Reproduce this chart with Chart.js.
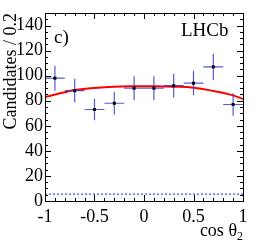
<!DOCTYPE html>
<html>
<head>
<meta charset="utf-8">
<script src="https://cdn.jsdelivr.net/npm/chart.js@4.4.0/dist/chart.umd.min.js"></script>
<style>
  html, body { margin: 0; padding: 0; background: #fff; }
  canvas { display: block; }
</style>
</head>
<body>
<canvas id="cosChart" width="256" height="245"></canvas>
<script>
// bin centres of cos(theta2), width 0.2
const binCenters = [-0.9, -0.7, -0.5, -0.3, -0.1, 0.1, 0.3, 0.5, 0.7, 0.9];
const candidates = [98, 88, 73, 78, 90, 90, 92, 94, 107, 77];
const candErrors = [10, 9.5, 8.5, 9, 9.5, 9.5, 9.5, 9.7, 10.5, 9];
const binHalfWidth = 0.1;

// fitted total PDF (red) and background (blue dotted)
const fitX = [-1, -0.8, -0.7, -0.5, -0.3, -0.1, 0.1, 0.3, 0.5, 0.7, 0.9, 1];
const fitY = [83, 86.8, 88.5, 90.2, 91.2, 91.5, 91.5, 91.2, 90.4, 87.8, 84.3, 81.4];
const bkgX = [-1, 1];
const bkgY = [5.5, 5.5];

const xTicks = [-1, -0.5, 0, 0.5, 1];
const yTicks = [0, 20, 40, 60, 80, 100, 120, 140];
const xMinorStep = 0.1;
const yMinorStep = 5;

const serif = '"Liberation Serif", "DejaVu Serif", serif';

const errorBars = {
    id: 'errorBars',
    afterDatasetsDraw(chart) {
        const ctx = chart.ctx;
        const x = chart.scales.x;
        const y = chart.scales.y;
        ctx.save();
        ctx.strokeStyle = 'rgba(60, 60, 200, 0.85)';
        ctx.lineWidth = 1.2;
        binCenters.forEach(function (c, i) {
            const px = x.getPixelForValue(c);
            const py = y.getPixelForValue(candidates[i]);
            ctx.beginPath();
            ctx.moveTo(x.getPixelForValue(c - binHalfWidth), py);
            ctx.lineTo(x.getPixelForValue(c + binHalfWidth), py);
            ctx.moveTo(px, y.getPixelForValue(candidates[i] - candErrors[i]));
            ctx.lineTo(px, y.getPixelForValue(candidates[i] + candErrors[i]));
            ctx.stroke();
        });
        ctx.fillStyle = '#000';
        binCenters.forEach(function (c, i) {
            const px = x.getPixelForValue(c);
            const py = y.getPixelForValue(candidates[i]);
            ctx.fillRect(px - 1.5, py - 1.5, 3, 3);
        });
        ctx.restore();
    }
};

// ROOT-style frame with inward ticks on all four sides, plus labels
const frame = {
    id: 'frame',
    afterDraw(chart) {
        const ctx = chart.ctx;
        const a = chart.chartArea;
        const x = chart.scales.x;
        const y = chart.scales.y;
        ctx.save();
        ctx.strokeStyle = '#000';
        ctx.lineWidth = 1;
        ctx.strokeRect(Math.round(a.left) + 0.5, Math.round(a.top) + 0.5,
            Math.round(a.right - a.left), Math.round(a.bottom - a.top));

        ctx.beginPath();
        for (let v = -1; v <= 1.0001; v += xMinorStep) {
            const major = xTicks.some(t => Math.abs(t - v) < 1e-6);
            const len = major ? 6 : 3;
            const px = Math.round(x.getPixelForValue(v)) + 0.5;
            ctx.moveTo(px, a.bottom); ctx.lineTo(px, a.bottom - len);
            ctx.moveTo(px, a.top); ctx.lineTo(px, a.top + len);
        }
        for (let v = 0; v <= y.max + 0.001; v += yMinorStep) {
            const major = yTicks.includes(v);
            const len = major ? 6 : 3;
            const py = Math.round(y.getPixelForValue(v)) + 0.5;
            ctx.moveTo(a.left, py); ctx.lineTo(a.left + len, py);
            ctx.moveTo(a.right, py); ctx.lineTo(a.right - len, py);
        }
        ctx.stroke();

        ctx.fillStyle = '#000';
        ctx.textBaseline = 'alphabetic';
        ctx.font = '19px ' + serif;
        ctx.textAlign = 'left';
        ctx.fillText('c)', 54, 43);
        ctx.fillText('LHCb', 181, 36);

        // x axis title: cos θ with subscript 2
        ctx.font = '18px ' + serif;
        const main = 'cos θ';
        const w = ctx.measureText(main).width;
        ctx.font = '12px ' + serif;
        const sw = ctx.measureText('2').width;
        const right = 243;
        ctx.font = '18px ' + serif;
        ctx.fillText(main, right - w - sw, 236);
        ctx.font = '12px ' + serif;
        ctx.fillText('2', right - sw, 240);
        ctx.restore();
    }
};

new Chart(document.getElementById('cosChart'), {
    data: {
        datasets: [{
            type: 'line',
            label: 'Fit',
            data: fitX.map((v, i) => ({ x: v, y: fitY[i] })),
            borderColor: '#ff0000',
            borderWidth: 2,
            pointRadius: 0,
            tension: 0.4,
            fill: false
        }, {
            type: 'line',
            label: 'Background',
            data: bkgX.map((v, i) => ({ x: v, y: bkgY[i] })),
            borderColor: '#2020ff',
            borderWidth: 1,
            borderDash: [2, 2],
            pointRadius: 0,
            fill: false
        }]
    },
    options: {
        responsive: false,
        animation: false,
        layout: { padding: { top: 13, right: 13, left: 0, bottom: 0 } },
        plugins: {
            legend: { display: false },
            tooltip: { enabled: false }
        },
        scales: {
            x: {
                type: 'linear',
                min: -1,
                max: 1,
                afterBuildTicks: s => { s.ticks = xTicks.map(v => ({ value: v })); },
                afterFit: s => { s.height = 44; },
                ticks: {
                    color: '#000',
                    font: { family: serif, size: 18 },
                    padding: 5,
                    maxRotation: 0,
                    callback: v => String(v)
                },
                grid: { display: false, drawTicks: false },
                border: { display: false }
            },
            y: {
                type: 'linear',
                min: 0,
                max: 150,
                afterBuildTicks: s => { s.ticks = yTicks.map(v => ({ value: v })); },
                afterFit: s => { s.width = 45; },
                ticks: {
                    color: '#000',
                    font: { family: serif, size: 18 },
                    padding: 2
                },
                title: {
                    display: true,
                    text: 'Candidates / 0.2',
                    align: 'end',
                    color: '#000',
                    font: { family: serif, size: 18 },
                    padding: 0
                },
                grid: { display: false, drawTicks: false },
                border: { display: false }
            }
        }
    },
    plugins: [errorBars, frame]
});
</script>
</body>
</html>
